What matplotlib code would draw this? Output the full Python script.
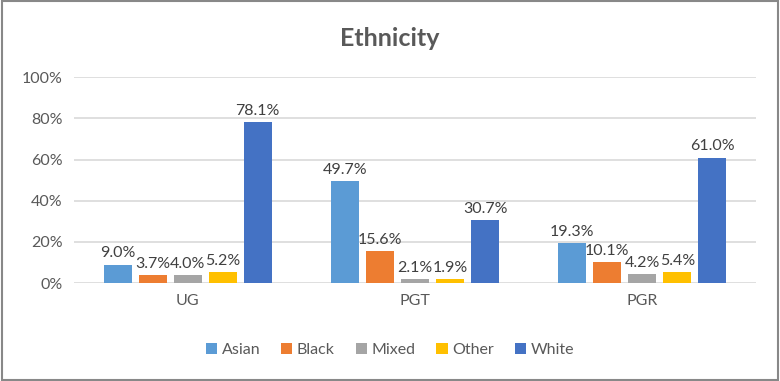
import numpy as np
import matplotlib.pyplot as plt
from matplotlib.patches import Rectangle
from matplotlib.ticker import PercentFormatter

plt.rcParams['font.family'] = ['Lato', 'DejaVu Sans']

groups = ['UG', 'PGT', 'PGR']
series = ['Asian', 'Black', 'Mixed', 'Other', 'White']
asian = [9.0, 49.7, 19.3]
black = [3.7, 15.6, 10.1]
mixed = [4.0, 2.1, 4.2]
other = [5.2, 1.9, 5.4]
white = [78.1, 30.7, 61.0]
colors = ['#5B9BD5', '#ED7D31', '#A5A5A5', '#FFC000', '#4472C4']

values = [asian, black, mixed, other, white]
text_col = '#595959'

fig = plt.figure(figsize=(7.8, 3.81), dpi=100)
fig.patches.append(Rectangle((0.002, 0.003), 0.995, 0.994, transform=fig.transFigure,
                             fill=False, edgecolor='#888888', linewidth=1.5))
ax = fig.add_axes([0.0949, 0.257, 0.8744, 0.54])

x = np.arange(len(groups))
step = 0.154
width = 0.123
for i, (name, vals, c) in enumerate(zip(series, values, colors)):
    pos = x + (i - 2) * step
    v = np.array(vals) / 100
    ax.bar(pos, v, width=width, color=c, label=name, zorder=3)
    for px, pv, raw in zip(pos, v, vals):
        ax.text(px, pv + 0.02, f'{raw:.1f}%', ha='center', va='bottom',
                fontsize=11.5, color='#404040')

ax.set_xlim(-0.5, 2.5)
ax.set_ylim(0, 1)
ax.set_yticks(np.arange(0, 1.01, 0.2))
ax.yaxis.set_major_formatter(PercentFormatter(1.0, decimals=0))
ax.set_xticks(x)
ax.set_xticklabels(groups)
ax.grid(axis='y', color='#D9D9D9', linewidth=1.2, zorder=0)
for s in ax.spines.values():
    s.set_visible(False)
ax.tick_params(axis='both', length=0, labelsize=11.5, colors=text_col)
ax.tick_params(axis='y', pad=8)
ax.tick_params(axis='x', pad=8)

fig.suptitle('Ethnicity', y=0.93, fontsize=18, fontweight='bold', color=text_col)

fig.legend(loc='center', bbox_to_anchor=(0.5, 0.082), ncol=5, frameon=False,
           fontsize=11.5, handlelength=0.7, handleheight=0.7, handletextpad=0.3,
           columnspacing=1.3, labelcolor=text_col)

fig.savefig('out.png', dpi=100)
